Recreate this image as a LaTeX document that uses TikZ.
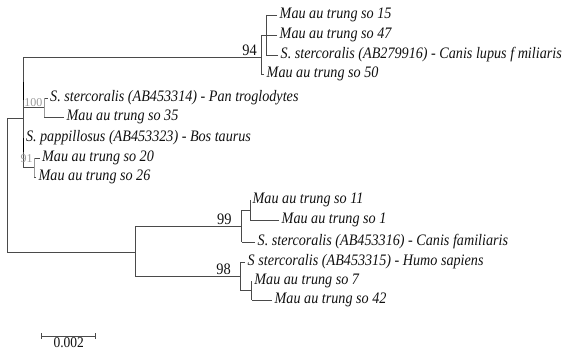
\documentclass[tikz,border=0pt]{standalone}
\usepackage{fontspec}
\setmainfont{Liberation Serif}
\newfontfamily\treefont[FakeStretch=0.9]{Liberation Serif}
\newfontfamily\tipfont[FakeStretch=0.885]{Liberation Serif}
\usetikzlibrary{positioning}
\definecolor{Branch}{HTML}{4A4A4A}
\definecolor{Faint}{HTML}{9A9A9A}
\definecolor{Ink}{HTML}{111111}

\begin{document}
\begin{tikzpicture}[x=1pt,y=-1pt,
  branch/.style={draw=Branch,line width=0.8pt},
  faint/.style={draw=Faint,line width=0.8pt},
  tip/.style={anchor=west,inner xsep=2.5pt,inner ysep=0pt,text=Ink,
    font=\tipfont\fontsize{16}{16}\selectfont\itshape},
  boot/.style={anchor=south east,inner sep=1pt,text=Ink,
    font=\treefont\fontsize{16}{16}\selectfont},
  bootlo/.style={anchor=south east,inner sep=0.5pt,text=Faint,
    font=\fontsize{12}{12}\selectfont}]
\useasboundingbox (0,0) rectangle (572,353);
% internal nodes of the tree
\coordinate (R) at (7.5,185);
\coordinate (A) at (23.3,118);
\coordinate (L) at (135,252);
\coordinate (n94) at (261,57);
\coordinate (n94s) at (266,35);
\coordinate (n100) at (44,107);
\coordinate (n91) at (34.3,167);
\coordinate (n99) at (241.7,226);
\coordinate (n99s) at (250,210);
\coordinate (n98) at (240,276);
\coordinate (n98s) at (251.7,290);
\draw[branch] (n94s) -| (n94);
\draw[branch] (n94) -| (A);
\draw[branch] (n100) -| (A);
\draw[branch] (n91) -| (A);
\draw[branch] (A) -| (R);
\draw[branch] (L) -| (R);
\draw[branch] (n99) -| (L);
\draw[branch] (n98) -| (L);
\draw[branch] (n99s) -| (n99);
\draw[branch] (n98s) -| (n98);
\draw[black,line width=1.2pt] ([yshift=36pt]A) -- ([yshift=18pt]A);
\draw[black,line width=1.2pt] ([yshift=-19pt]A) -- ([yshift=-34pt]A);
% leaves
\foreach \n/\x/\y/\p/\s/\t in {
  t15/277/15/n94s/branch/Mau au trung so 15,
  t47/277/35/n94s/branch/Mau au trung so 47,
  tcl/278/55/n94s/branch/S. stercoralis (AB279916) - Canis lupus f miliaris,
  t50/264/74/n94/branch/Mau au trung so 50,
  tpt/47.5/98/n100/faint/S. stercoralis (AB453314) - Pan troglodytes,
  t35/64/117/n100/faint/Mau au trung so 35,
  tbt/23.3/138/A/branch/S. pappillosus (AB453323) - Bos taurus,
  t20/39.5/158/n91/faint/Mau au trung so 20,
  t26/36/177/n91/faint/Mau au trung so 26,
  t11/250/200/n99s/branch/Mau au trung so 11,
  t1/279/220/n99s/branch/Mau au trung so 1,
  tcf/255/242/n99/branch/S. stercoralis (AB453316) - Canis familiaris,
  ths/245/262/n98/branch/S stercoralis (AB453315) - Humo sapiens,
  t7/251.7/281/n98s/branch/Mau au trung so 7,
  t42/272/300/n98s/branch/Mau au trung so 42}{
  \node[tip] (\n) at (\x,\y) {\t};
  \draw[branch] (\n.west) -- (\n.west -| \p);
  \draw[\s] (\n.west -| \p) -- (\p);
}
% bootstrap values
\node[boot] (b94) at ([xshift=-3pt]n94) {94};
\node[boot] (b99) at ([xshift=-9pt]n99) {99};
\node[boot] (b98) at ([xshift=-8pt]n98) {98};
\node[bootlo] (b100) at ([xshift=-1pt]n100) {100};
\node[bootlo] (b91) at ([xshift=-1pt,yshift=4pt]n91) {91};
% scale bar
\coordinate (s0) at (41.7,336);
\coordinate (s1) at (95.7,336);
\draw[branch] (s0) -- node[below,inner sep=1.5pt,text=Ink,
  font=\treefont\fontsize{15}{15}\selectfont] (sl) {0.002} (s1);
\draw[branch] ([yshift=3pt]s0) -- ([yshift=-3pt]s0);
\draw[branch] ([yshift=3pt]s1) -- ([yshift=-3pt]s1);
\end{tikzpicture}
\end{document}
